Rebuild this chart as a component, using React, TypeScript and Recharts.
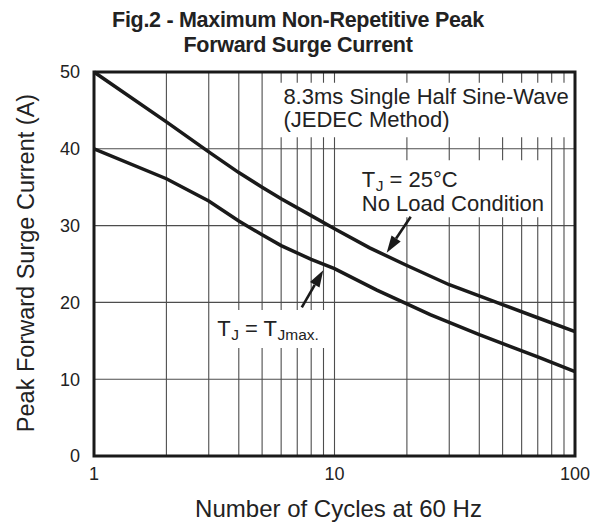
import React from 'react';
import { LineChart, Line, XAxis, YAxis, CartesianGrid, ReferenceArea, ReferenceLine } from 'recharts';

const FONT = '"Liberation Sans", Arial, Helvetica, sans-serif';

// Axis ticks
const xTicks = [1, 2, 3, 4, 5, 6, 7, 8, 9, 10, 20, 30, 40, 50, 60, 70, 80, 90, 100];
const xLabelTicks = [1, 10, 100];
const yTicks = [0, 10, 20, 30, 40, 50];

// TJ = 25°C, no load condition
const upperCycles = [1, 2, 3, 4, 5, 6, 8, 10, 14, 20, 30, 50, 70, 100];
const upperCurrent = [50, 43.5, 39.6, 36.9, 35.0, 33.5, 31.3, 29.6, 27.1, 24.8, 22.3, 19.7, 18.0, 16.2];

// TJ = TJmax
const lowerCycles = [1, 2, 3, 4, 5, 6, 8, 10, 15, 20, 25, 40, 70, 100];
const lowerCurrent = [40, 36.1, 33.2, 30.6, 28.8, 27.4, 25.6, 24.4, 21.6, 19.8, 18.4, 15.8, 12.9, 11.0];

const upperData = upperCycles.map((c, i) => ({ cycles: c, current: upperCurrent[i] }));
const lowerData = lowerCycles.map((c, i) => ({ cycles: c, current: lowerCurrent[i] }));

const Arrow = (props: any) => {
  const { x1, y1, x2, y2 } = props;
  const dx = x2 - x1;
  const dy = y2 - y1;
  const len = Math.sqrt(dx * dx + dy * dy) || 1;
  const ux = dx / len;
  const uy = dy / len;
  const headLen = 17;
  const headW = 5.5;
  const bx = x2 - ux * headLen;
  const by = y2 - uy * headLen;
  const px = -uy;
  const py = ux;
  return (
    <g>
      <line x1={x1} y1={y1} x2={bx} y2={by} stroke="#1a1a1a" strokeWidth={2.6} />
      <polygon
        points={`${x2},${y2} ${bx + px * headW},${by + py * headW} ${bx - px * headW},${by - py * headW}`}
        fill="#1a1a1a"
      />
    </g>
  );
};

const XTick = (props: any) => {
  const { x, y, payload } = props;
  if (!xLabelTicks.includes(payload.value)) return null;
  return (
    <text x={x} y={y} dy={22} textAnchor="middle" fontFamily={FONT} fontSize={18} fill="#222">
      {payload.value}
    </text>
  );
};

export default function App() {
  return (
    <div style={{ position: 'absolute', left: 0, top: 0, width: 595, height: 525, background: '#fff' }}>
      <div
        style={{
          position: 'absolute',
          left: 0,
          top: 8,
          width: 596,
          textAlign: 'center',
          fontFamily: FONT,
          fontWeight: 'bold',
          fontSize: 21.5,
          letterSpacing: '-0.3px',
          lineHeight: '25px',
          color: '#222',
        }}
      >
        Fig.2 - Maximum Non-Repetitive Peak
        <br />
        Forward Surge Current
      </div>
      <LineChart width={595} height={525} margin={{ top: 72, right: 20, bottom: 0, left: 0 }}>
        <CartesianGrid stroke="#4d4d4d" strokeWidth={1.1} />
        <XAxis
          dataKey="cycles"
          type="number"
          scale="log"
          domain={[1, 100]}
          ticks={xTicks}
          interval={0}
          allowDataOverflow
          height={69}
          axisLine={false}
          tickLine={false}
          tickSize={0}
          tick={<XTick />}
          label={{
            content: ({ viewBox }: any) => (
              <text
                x={viewBox.x + viewBox.width / 2 + 4}
                y={viewBox.y + 61}
                textAnchor="middle"
                fontFamily={FONT}
                fontSize={24}
                fill="#222"
              >
                Number of Cycles at 60 Hz
              </text>
            ),
          }}
        />
        <YAxis
          type="number"
          domain={[0, 50]}
          ticks={yTicks}
          width={94}
          axisLine={false}
          tickLine={false}
          tickSize={0}
          tickMargin={14}
          tick={{ fontFamily: FONT, fontSize: 18, fill: '#222' }}
          label={{
            content: ({ viewBox }: any) => {
              const cx = 34;
              const cy = viewBox.y + viewBox.height / 2 - 1;
              return (
                <text
                  x={cx}
                  y={cy}
                  transform={`rotate(-90, ${cx}, ${cy})`}
                  textAnchor="middle"
                  fontFamily={FONT}
                  fontSize={23.5}
                  fill="#222"
                >
                  Peak Forward Surge Current (A)
                </text>
              );
            },
          }}
        />
        <ReferenceArea
          x1={5.9}
          x2={100}
          y1={41.5}
          y2={48.6}
          fill="#fff"
          fillOpacity={1}
          stroke="none"
          ifOverflow="visible"
          label={{
            content: ({ viewBox }: any) => (
              <text fontFamily={FONT} fontSize={22} fill="#222">
                <tspan x={viewBox.x + 4} y={viewBox.y + 21}>8.3ms Single Half Sine-Wave</tspan>
                <tspan x={viewBox.x + 4} y={viewBox.y + 44}>(JEDEC Method)</tspan>
              </text>
            ),
          }}
        />
        <ReferenceArea
          x1={12.5}
          x2={78}
          y1={31.1}
          y2={38.5}
          fill="#fff"
          fillOpacity={1}
          stroke="none"
          ifOverflow="visible"
          label={{
            content: ({ viewBox }: any) => (
              <text fontFamily={FONT} fontSize={22} fill="#222">
                <tspan x={viewBox.x + 4} y={viewBox.y + 27}>T</tspan>
                <tspan dx={0.5} dy={4} fontSize={15.5}>J</tspan>
                <tspan dy={-4}> = 25°C</tspan>
                <tspan x={viewBox.x + 4} y={viewBox.y + 50.5}>No Load Condition</tspan>
              </text>
            ),
          }}
        />
        <ReferenceArea
          x1={3.13}
          x2={9.58}
          y1={14.06}
          y2={19.0}
          fill="#fff"
          fillOpacity={1}
          stroke="none"
          ifOverflow="visible"
          label={{
            content: ({ viewBox }: any) => (
              <text fontFamily={FONT} fontSize={22} fill="#222">
                <tspan x={viewBox.x + 4} y={viewBox.y + 26}>T</tspan>
                <tspan dx={0.5} dy={4} fontSize={15.5}>J</tspan>
                <tspan dy={-4}> = T</tspan>
                <tspan dx={0.5} dy={4} fontSize={15.5}>Jmax.</tspan>
              </text>
            ),
          }}
        />
        <Line
          data={upperData}
          dataKey="current"
          type="linear"
          stroke="#1a1a1a"
          strokeWidth={3.5}
          dot={false}
          activeDot={false}
          isAnimationActive={false}
        />
        <Line
          data={lowerData}
          dataKey="current"
          type="linear"
          stroke="#1a1a1a"
          strokeWidth={3.5}
          dot={false}
          activeDot={false}
          isAnimationActive={false}
        />
        <ReferenceLine
          segment={[{ x: 20.74, y: 31.16 }, { x: 16.48, y: 26.47 }]}
          ifOverflow="visible"
          shape={<Arrow />}
        />
        <ReferenceLine
          segment={[{ x: 7.31, y: 19.36 }, { x: 8.98, y: 24.2 }]}
          ifOverflow="visible"
          shape={<Arrow />}
        />
        <ReferenceArea
          x1={1}
          x2={100}
          y1={0}
          y2={50}
          fill="none"
          fillOpacity={0}
          stroke="#1a1a1a"
          strokeWidth={3}
          ifOverflow="visible"
        />
      </LineChart>
    </div>
  );
}
